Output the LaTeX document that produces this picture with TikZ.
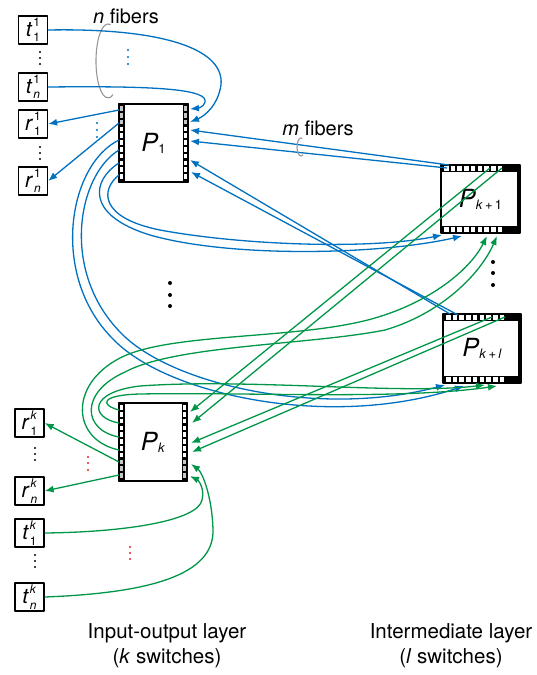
\documentclass[tikz,border=0pt]{standalone}
\usepackage{fontspec}
\setmainfont{TeX Gyre Heros}
\usetikzlibrary{arrows.meta,calc}
\definecolor{fibblue}{RGB}{0,112,192}
\definecolor{fibgreen}{RGB}{0,150,72}
\definecolor{dotred}{RGB}{225,30,40}
\definecolor{loopgray}{RGB}{150,150,150}

% terminal label: base letter with stacked sub/superscript
\newcommand{\sw}[3]{\textit{#1}\kern1pt\makebox[0pt][l]{\raisebox{0.45em}{\fontsize{12}{12}\selectfont #3}}\raisebox{-0.28em}{\fontsize{12}{12}\selectfont #2}}
% switch label subscript
\newcommand{\psub}[1]{\raisebox{-0.08em}{\fontsize{13}{13}\selectfont #1}}

% vertical port strip: x left, y top, height, grey cells
\newcommand{\vstrip}[4]{%
  \fill (#1,#2) rectangle ++(6,#3);
  \foreach \i in {0,...,10} \fill[white] ({#1+1.4},{#2+2.2+\i*6.8}) rectangle ++(3.2,4.6);
  \foreach \i in {#4} \fill[gray!45] ({#1+1.4},{#2+2.2+\i*6.8}) rectangle ++(3.2,4.6);
}
% horizontal port strip: x left, y top, width
\newcommand{\hstrip}[3]{%
  \fill (#1,#2) rectangle ++(#3,7);
  \foreach \i in {0,...,8} \fill[white] ({#1+3+\i*6.7},{#2+1.4}) rectangle ++(4.6,4.2);
}

\begin{document}
\begin{tikzpicture}[x=1pt,y=-1pt,line join=round,
  term/.style={draw,line width=1.3pt,minimum width=29pt,minimum height=28pt,inner sep=0pt,font=\fontsize{21}{21}\selectfont},
  pbox/.style={draw,fill=white,line width=1.8pt,inner sep=0pt,font=\fontsize{25}{25}\selectfont},
  bfib/.style={fibblue,line width=1.3pt},
  gfib/.style={fibgreen,line width=1.3pt},
  tip/.style={-{Latex[length=9pt,width=7pt]}},
  lbl/.style={inner sep=0pt,font=\fontsize{20}{20}\selectfont},
  caption/.style={align=center,inner sep=0pt,font=\fontsize{20.5}{25}\selectfont},
  smalldot/.style={radius=1.1},
  bigdot/.style={radius=2}]
\useasboundingbox (0,0) rectangle (536,675);

% terminals
\node[term] (t11) at (33,30) {\sw{t}{1}{1}};
\node[term] (t1n) at (33,87) {\sw{t}{\textit{n}}{1}};
\node[term] (r11) at (33,124) {\sw{r}{1}{1}};
\node[term] (r1n) at (33,181) {\sw{r}{\textit{n}}{1}};
\node[term] (rk1) at (29.5,423) {\sw{r}{1}{\textit{k}}};
\node[term] (rkn) at (29.5,491) {\sw{r}{\textit{n}}{\textit{k}}};
\node[term] (tk1) at (29.5,533) {\sw{t}{1}{\textit{k}}};
\node[term] (tkn) at (29.5,597) {\sw{t}{\textit{n}}{\textit{k}}};

% switches
\node[pbox,minimum width=70pt,minimum height=78pt] (P1) at (153.5,143) {\textit{P}\psub{1}};
\node[pbox,minimum width=69pt,minimum height=78pt] (Pk) at (153,442) {\textit{P}\psub{\textit{k}}};
\node[pbox,minimum width=79pt,minimum height=68pt] (Pk1) at (480.5,199) {\textit{P}\psub{\textit{k}\,+\,1}};
\node[pbox,minimum width=78pt,minimum height=69pt] (Pkl) at (482,348.5) {\textit{P}\psub{\textit{k}\,+\,\textit{l}}};

% port strips
\vstrip{118.5}{104}{78}{0,1,2}
\vstrip{182.5}{104}{78}{0,1,2}
\vstrip{118.5}{403}{78}{8,9,10}
\vstrip{181.5}{403}{78}{8,9,10}
\hstrip{441}{165}{79}
\hstrip{441}{226}{79}
\draw[line width=3.4pt] (518.5,165) -- (518.5,233);
\hstrip{443}{314}{78}
\hstrip{443}{376}{78}
\draw[line width=3.4pt] (519.5,314) -- (519.5,383);

% ports of P1
\coordinate (a1) at (119,110); \coordinate (a2) at (119,123);
\coordinate (a3) at (119,140); \coordinate (a4) at (119,150);
\coordinate (a5) at (119,163); \coordinate (a6) at (119,175);
\coordinate (b1) at (190,109); \coordinate (b2) at (190,122);
\coordinate (b3) at (190,130); \coordinate (b4) at (190,141);
\coordinate (b5) at (190,160); \coordinate (b6) at (191,172);
% ports of Pk
\coordinate (c1) at (119,410); \coordinate (c2) at (119,423);
\coordinate (c3) at (119,437); \coordinate (c4) at (119,450);
\coordinate (c5) at (119,462); \coordinate (c6) at (119,475);
\coordinate (d1) at (190,412); \coordinate (d2) at (192,423);
\coordinate (d3) at (191,443); \coordinate (d4) at (192,452);
\coordinate (d5) at (191,464); \coordinate (d6) at (190,476);
% ports of Pk+1
\coordinate (e1) at (449,165); \coordinate (e2) at (447,168);
\coordinate (e3) at (490,168); \coordinate (e4) at (502,168);
\coordinate (f1) at (442,235); \coordinate (f2) at (462,236);
\coordinate (f3) at (487,236); \coordinate (f4) at (497,236);
% ports of Pk+l
\coordinate (g1) at (450,314); \coordinate (g2) at (458,315);
\coordinate (g3) at (492,317); \coordinate (g4) at (505,317);
\coordinate (h1) at (445,385); \coordinate (h2) at (464,386);
\coordinate (h3) at (485,385); \coordinate (h4) at (497,386);

% fibre bundle markers
\draw[loopgray,line width=1.1pt] (108,61) ++(-78:12 and 37) arc[start angle=-78,end angle=-295,x radius=12,y radius=37];
\node[lbl] (nfib) at (126,16) {\textit{n} fibers};
\node[lbl] (mfib) at (318,128) {\textit{m} fibers};

% blue fibres of P1
\draw[bfib,tip] (t11.east) .. controls (150,28) and (225,45) .. (221,85) .. controls (218,105) and (205,116) .. (b2);
\draw[bfib,tip] (t1n.east) .. controls (140,86) and (195,88) .. (204,98) .. controls (208,104) and (200,108) .. (b1);
\draw[bfib,tip] (a1) -- (r11.east);
\draw[bfib,tip] (a2) -- (r1n.east);
\draw[bfib,tip] (e1) -- (b3);
\draw[bfib,tip] (e2) -- (b4);
\draw[bfib,tip] (g1) -- (b5);
\draw[bfib,tip] (g2) -- (b6);
\draw[bfib,tip] (a5) .. controls (92,180) and (85,215) .. (150,235) .. controls (230,258) and (380,255) .. (f2);
\draw[bfib,tip] (a6) .. controls (100,190) and (100,218) .. (160,230) .. controls (240,245) and (370,250) .. (f1);
\draw[bfib,tip] (a3) .. controls (68,165) and (50,275) .. (112,338) .. controls (165,395) and (330,430) .. (h2);
\draw[bfib,tip] (a4) .. controls (78,175) and (60,270) .. (120,332) .. controls (170,385) and (320,418) .. (h1);

\draw[loopgray,line width=1.1pt] (301,147) ++(-70:4 and 9) arc[start angle=-70,end angle=-300,x radius=4,y radius=9];

% green fibres of Pk
\draw[gfib,tip] (c5) -- (rk1.east);
\draw[gfib,tip] (c6) -- (rkn.east);
\draw[gfib,tip] (tk1.east) .. controls (130,532) and (198,520) .. (202,500) .. controls (205,488) and (198,480) .. (d6);
\draw[gfib,tip] (tkn.east) .. controls (150,593) and (214,575) .. (213,530) .. controls (212,495) and (202,472) .. (d5);
\draw[gfib,tip] (e3) -- (d1);
\draw[gfib,tip] (e4) -- (d2);
\draw[gfib,tip] (g3) -- (d3);
\draw[gfib,tip] (g4) -- (d4);
\draw[gfib,tip] (c4) .. controls (72,440) and (68,385) .. (120,358) .. controls (170,332) and (300,340) .. (375,318) .. controls (430,302) and (470,270) .. (f3);
\draw[gfib,tip] (c3) .. controls (82,430) and (80,392) .. (125,372) .. controls (175,345) and (310,345) .. (385,330) .. controls (440,314) and (480,275) .. (f4);
\draw[gfib,tip] (c2) .. controls (90,418) and (88,392) .. (140,386) .. controls (250,378) and (400,395) .. (h3);
\draw[gfib,tip] (c1) .. controls (100,405) and (100,395) .. (140,394) .. controls (250,392) and (400,400) .. (h4);

% ellipsis dots
\foreach \y in {52,58,64} \fill (40,\y) circle[smalldot];
\foreach \y in {147,153,159} \fill (40,\y) circle[smalldot];
\foreach \y in {448,454,460} \fill (35,\y) circle[smalldot];
\foreach \y in {555,561,567} \fill (35,\y) circle[smalldot];
\foreach \y in {50,57,64} \fill[fibblue] (128,\y) circle[smalldot];
\foreach \y in {123,130,137} \fill[fibblue] (97,\y) circle[smalldot];
\foreach \y in {457,463,470} \fill[dotred] (88,\y) circle[smalldot];
\foreach \y in {547,553,559} \fill[dotred] (130,\y) circle[smalldot];
\foreach \y in {283,295,306} \fill (170,\y) circle[bigdot];
\foreach \y in {262,273,285} \fill (493,\y) circle[bigdot];

% layer captions
\node[caption] (iolab) at (167,646) {Input-output layer\\(\textit{k} switches)};
\node[caption] (imlab) at (451,646) {Intermediate layer\\(\textit{l} switches)};
\end{tikzpicture}
\end{document}
